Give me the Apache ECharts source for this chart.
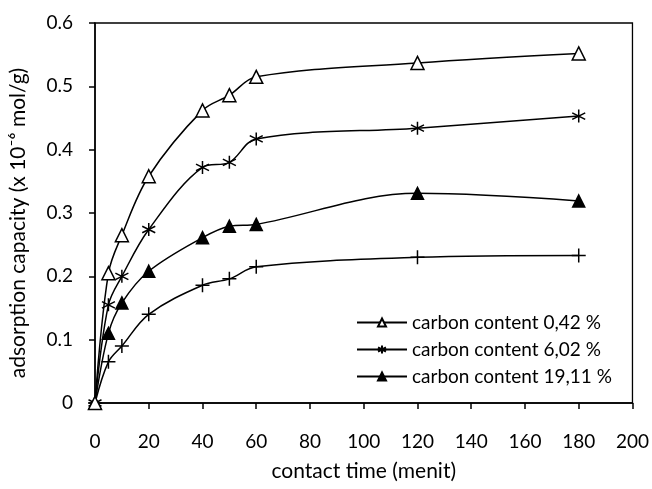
<!DOCTYPE html>
<html>
<head>
<meta charset="utf-8">
<script src="https://cdn.jsdelivr.net/npm/echarts@6/dist/echarts.min.js"></script>
<style>html,body{margin:0;padding:0;background:#fff;}#c{width:652px;height:489px;}</style>
</head>
<body>
<div id="c"></div>
<script>
var times = [0, 5, 10, 20, 40, 50, 60, 120, 180];
var names = ['carbon content 0,42 %', 'carbon content 6,02 %', 'carbon content 19,11 %', 'series 4'];
var s042 = [0, 0.205, 0.265, 0.358, 0.462, 0.486, 0.515, 0.537, 0.552];
var s602 = [0, 0.155, 0.200, 0.274, 0.372, 0.380, 0.417, 0.434, 0.453];
var s1911 = [0, 0.110, 0.158, 0.208, 0.261, 0.279, 0.282, 0.331, 0.319];
var s4 = [0, 0.065, 0.090, 0.140, 0.186, 0.196, 0.215, 0.230, 0.233];
var yTicks = ['0', '0.1', '0.2', '0.3', '0.4', '0.5', '0.6'];

function pairs(v) { return times.map(function (t, i) { return [t, v[i]]; }); }

var FONT = 'Lato';
var starPath = 'path://M0,-1L0,1M-0.87,-0.5L0.87,0.5M-0.87,0.5L0.87,-0.5';
var plusPath = 'path://M0,-1L0,1M-1,0L1,0';

function mk(name, data, symbol, size, fill, z) {
  return {
    name: name, type: 'line', data: pairs(data), smooth: 0.35,
    symbol: symbol, symbolSize: size, showSymbol: true, z: z,
    lineStyle: { color: '#000', width: 1.5 },
    itemStyle: { color: fill, borderColor: '#000', borderWidth: 1.5 },
    emphasis: { disabled: true }
  };
}

var chart = echarts.init(document.getElementById('c'), null, { renderer: 'canvas' });
chart.setOption({
  animation: false,
  backgroundColor: '#fff',
  textStyle: { fontFamily: FONT, color: '#000' },
  grid: { left: 95, right: 19, top: 23, bottom: 86, show: true, borderColor: '#000', borderWidth: 1.3, backgroundColor: 'transparent' },
  legend: {
    data: names.slice(0, 3), orient: 'vertical', left: 356, top: 313,
    itemWidth: 50, itemHeight: 10, itemGap: 8, padding: 0,
    textStyle: { fontFamily: FONT, fontSize: 19, color: '#000' }
  },
  xAxis: {
    type: 'value', min: 0, max: 200, interval: 20,
    name: 'contact time (menit)', nameLocation: 'middle', nameGap: 58,
    nameTextStyle: { fontFamily: FONT, fontSize: 21, color: '#000' },
    axisLine: { show: true, lineStyle: { color: '#000', width: 1.5 } },
    axisTick: { show: true, length: 6, lineStyle: { color: '#000', width: 1.5 } },
    axisLabel: { fontFamily: FONT, fontSize: 19, color: '#000', margin: 29 },
    splitLine: { show: false }
  },
  yAxis: {
    type: 'value', min: 0, max: 0.6, interval: 0.1,
    name: 'adsorption capacity (x 10\u207B\u2076 mol/g)', nameLocation: 'middle', nameGap: 66,
    nameTextStyle: { fontFamily: FONT, fontSize: 21, color: '#000', padding: [0, 20, 0, 0] },
    axisLine: { show: true, lineStyle: { color: '#000', width: 1.5 } },
    axisTick: { show: true, length: 6, lineStyle: { color: '#000', width: 1.5 } },
    axisLabel: { fontFamily: FONT, fontSize: 19, color: '#000', margin: 22,
      formatter: function (v) { return yTicks[Math.round(v * 10)]; } },
    splitLine: { show: false }
  },
  series: [
    mk(names[0], s042, 'triangle', 13, '#fff', 5),
    mk(names[1], s602, starPath, 13, '#000', 4),
    mk(names[2], s1911, 'triangle', 12, '#000', 3),
    mk(names[3], s4, plusPath, 14, '#000', 2)
  ]
});
</script>
</body>
</html>
